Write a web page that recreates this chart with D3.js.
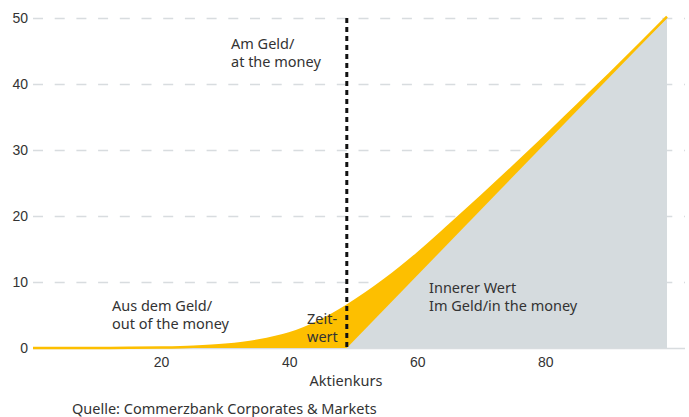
<!DOCTYPE html>
<html>
<head>
<meta charset="utf-8">
<script src="https://cdn.jsdelivr.net/npm/d3@7"></script>
<style>
  body { margin: 0; background: #fff; }
  svg { display: block; font-family: "Noto Sans", "Open Sans", sans-serif; }
  .tick text { fill: #333; font-size: 14px; }
  .note { fill: #333; font-size: 14.5px; }
</style>
</head>
<body>
<svg width="689" height="417"></svg>
<script>
const WIDTH = 689
const HEIGHT = 417

// Aktienkurs (x) und Optionswert (y)
const prices = [0, 5, 10, 15, 20, 25, 30, 35, 40, 45, 49, 55, 60, 65, 70, 75, 80, 85, 90, 95, 99]
const optionValues = [0, 0, 0, 0.02, 0.07, 0.2, 0.5, 1.1, 2.2, 4.2, 6.4, 10.4, 14.3, 18.6, 23.0, 27.5, 32.1, 36.8, 41.5, 46.3, 50.2]
// innerer Wert
const intrinsicPrices = [49, 99]
const intrinsicValues = [0, 50]
const strike = 49

const xTicks = [20, 40, 60, 80]
const yTicks = [0, 10, 20, 30, 40, 50]

const svg = d3.select("svg")

const x = d3.scaleLinear().domain([0, 99]).range([33, 667])
const y = d3.scaleLinear().domain([0, 50]).range([348, 18])
const GRID_RIGHT = 685

// gridlines + y labels
let yAxis = svg.append("g")
    .attr("transform", "translate(" + x(0) + ",0)")
    .call(d3.axisLeft(y)
        .tickValues(yTicks)
        .tickSize(-(GRID_RIGHT - x(0)))
        .tickPadding(5)
        .tickFormat(d3.format("d")))
yAxis.select(".domain").remove()
yAxis.selectAll(".tick line")
    .attr("stroke", "#d8dcdf")
    .attr("stroke-width", 1.3)
    .attr("stroke-dasharray", function(d) { return d === 0 ? null : "10,11.7" })
yAxis.selectAll(".tick text").attr("fill", "#333")

// yellow area = option value
const optData = prices.map(function(p, i) { return { p: p, v: optionValues[i] } })
const area = d3.area()
    .x(function(d) { return x(d.p) })
    .y0(y(0))
    .y1(function(d) { return y(d.v) })
    .curve(d3.curveMonotoneX)

svg.append("path")
    .datum(optData)
    .attr("fill", "#fdbf00")
    .attr("d", area)

// grey area = intrinsic value
const intrData = intrinsicPrices.map(function(p, i) { return { p: p, v: intrinsicValues[i] } })
svg.append("path")
    .datum(intrData)
    .attr("fill", "#d5dbde")
    .attr("d", d3.area()
        .x(function(d) { return x(d.p) })
        .y0(y(0))
        .y1(function(d) { return y(d.v) }))

// yellow outline on top
svg.append("path")
    .datum(optData)
    .attr("fill", "none")
    .attr("stroke", "#fdbf00")
    .attr("stroke-width", 2.5)
    .attr("d", d3.line()
        .x(function(d) { return x(d.p) })
        .y(function(d) { return y(d.v) })
        .curve(d3.curveMonotoneX))

// strike line
svg.append("line")
    .attr("x1", x(strike)).attr("x2", x(strike))
    .attr("y1", y(50)).attr("y2", y(0))
    .attr("stroke", "#111")
    .attr("stroke-width", 3)
    .attr("stroke-dasharray", "5,4")

// x axis
let xAxis = svg.append("g")
    .attr("transform", "translate(0," + y(0) + ")")
    .call(d3.axisBottom(x).tickValues(xTicks).tickSize(0).tickPadding(9))
xAxis.select(".domain").remove()

svg.append("text")
    .attr("class", "note")
    .attr("x", 346).attr("y", 386)
    .attr("text-anchor", "middle")
    .text("Aktienkurs")

// annotations
function note(lines, px, py) {
    let t = svg.append("text").attr("class", "note")
    lines.forEach(function(s, i) {
        t.append("tspan").attr("x", px).attr("y", py + i * 18).text(s)
    })
}
note(["Am Geld/", "at the money"], 231, 49)
note(["Aus dem Geld/", "out of the money"], 112, 311)
note(["Zeit-", "wert"], 307, 324)
note(["Innerer Wert", "Im Geld/in the money"], 429, 293)

svg.append("text")
    .attr("class", "note")
    .attr("x", 72).attr("y", 414)
    .text("Quelle: Commerzbank Corporates & Markets")
</script>
</body>
</html>
